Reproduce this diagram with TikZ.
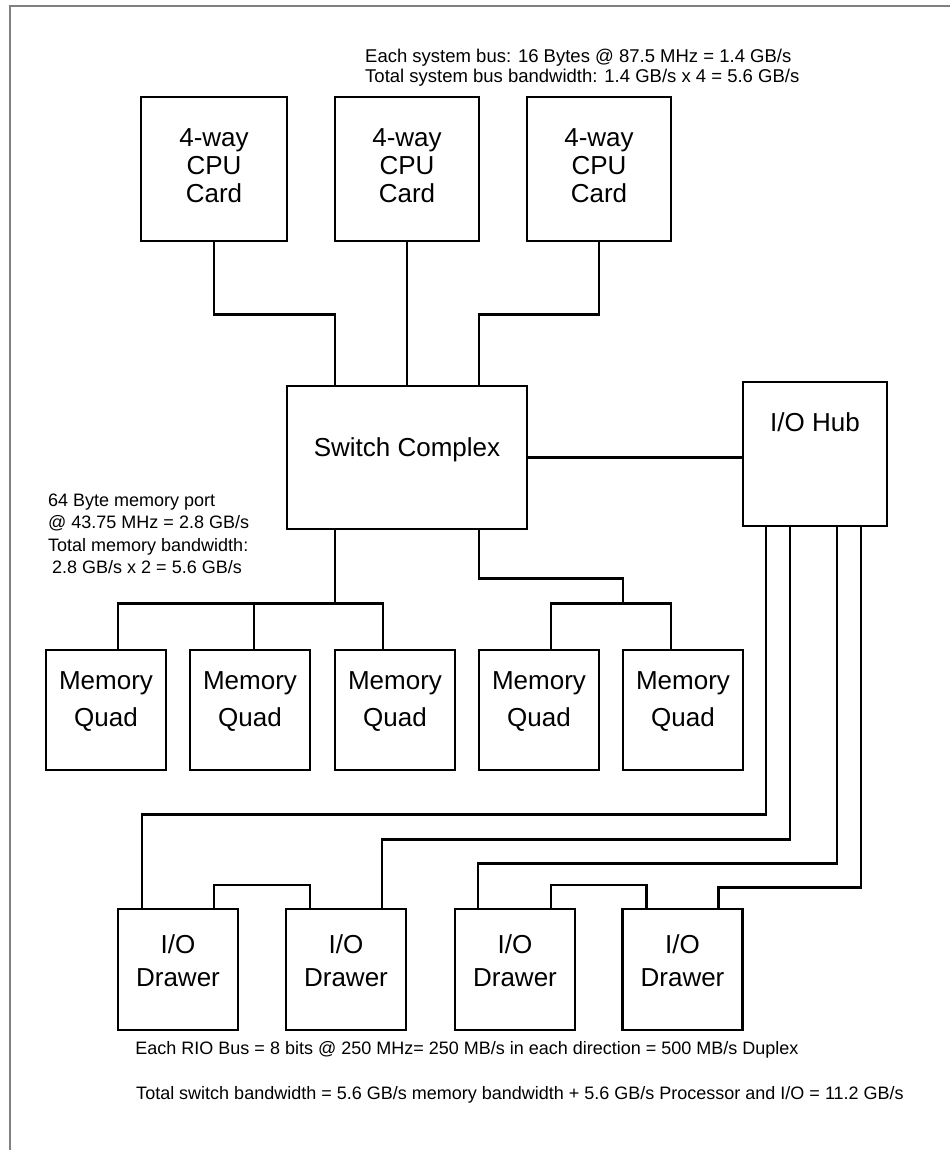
\documentclass[tikz,border=0pt]{standalone}
\usepackage{fontspec}
\setmainfont{Liberation Sans}
\begin{document}
\begin{tikzpicture}[x=1pt,y=-1pt,
  box/.style={draw, line width=2.5pt, inner sep=0pt},
  lbl/.style={align=center, inner sep=0pt, font=\fontsize{26}{28}\selectfont},
  wire/.style={line width=2.5pt},
  note/.style={inner sep=0pt, align=left, font=\fontsize{18}{22.5}\selectfont}]
\useasboundingbox (0,0) rectangle (950,1150);
\draw[black!50, line width=2pt] (9.5,1150) -- (9.5,6.5) -- (950,6.5);

% CPU cards
\node[box, minimum width=146pt, minimum height=144pt] (c1) at (214,169) {};
\node[box, minimum width=144pt, minimum height=144pt] (c2) at (407,169) {};
\node[box, minimum width=144pt, minimum height=144pt] (c3) at (599,169) {};
\node[lbl, yshift=3pt] (t1) at (c1.center) {4-way\\CPU\\Card};
\node[lbl, yshift=3pt] (t2) at (c2.center) {4-way\\CPU\\Card};
\node[lbl, yshift=3pt] (t3) at (c3.center) {4-way\\CPU\\Card};

% Switch and hub
\node[box, minimum width=240pt, minimum height=143pt] (sw) at (407,457.5) {};
\node[lbl, yshift=7.5pt] (tsw) at (sw.center) {Switch Complex};
\node[box, minimum width=144pt, minimum height=144pt] (hub) at (815,454) {};
\node[lbl, yshift=32pt] (thub) at (hub.center) {I/O Hub};

% Memory quads
\foreach \i/\x in {1/106,2/250,3/395,4/539,5/683}{
  \node[box, minimum width=120pt, minimum height=120pt] (m\i) at (\x,710) {};
  \node[lbl, font=\fontsize{26}{37}\selectfont, yshift=8.5pt] (tm\i) at (m\i.center) {Memory\\Quad};
}

% I/O drawers
\foreach \i/\x in {1/178,2/346,3/515,4/682.5}{
  \node[box, minimum width=120pt, minimum height=121pt] (d\i) at (\x,969.5) {};
  \node[lbl, font=\fontsize{26}{33}\selectfont, yshift=8.5pt] (td\i) at (d\i.center) {I/O\\Drawer};
}

% CPU to switch
\draw[wire] (c1.south) -- ++(0,72) -| ([xshift=-72pt]sw.north);
\draw[wire] (c2.south) -- (c2.south |- sw.north);
\draw[wire] (c3.south) -- ++(0,72) -| ([xshift=72pt]sw.north);

% switch to hub
\draw[wire] (sw.east) -- (sw.east -| hub.west);

% switch to memory
\draw[wire] ([xshift=-72pt]sw.south) -- ++(0,73) coordinate (mb1);
\draw[wire] ([xshift=12pt]m1.north) |- (mb1) -| ([xshift=-12pt]m3.north);
\draw[wire] ([xshift=4pt]m2.north) -- ([xshift=4pt]m2.north |- mb1);
\draw[wire] ([xshift=72pt]sw.south) -- ++(0,48) -| ([xshift=84pt]m4.north |- mb1) coordinate (mb2);
\draw[wire] ([xshift=12pt]m4.north) |- (mb2) -| ([xshift=-12pt]m5.north);

% hub to drawers
\draw[wire] ([xshift=24pt]hub.south west) -- ++(0,287) -| ([xshift=-36pt]d1.north);
\draw[wire] ([xshift=48pt]hub.south west) -- ++(0,312) -| ([xshift=36pt]d2.north);
\draw[wire] ([xshift=95pt]hub.south west) -- ++(0,336) -| ([xshift=-37pt]d3.north);
\draw[wire] ([xshift=119pt]hub.south west) -- ++(0,360) -| ([xshift=36pt]d4.north);
\draw[wire] ([xshift=36pt]d1.north) -- ++(0,-23) -| ([xshift=-36pt]d2.north);
\draw[wire] ([xshift=36pt]d3.north) -- ++(0,-23) -| ([xshift=-36pt]d4.north);

% annotations
\node[note, anchor=west, font=\fontsize{18.5}{20}\selectfont] (n1) at (365,68) {Each system bus: 16 Bytes @ 87.5 MHz = 1.4 GB/s\\Total system bus bandwidth: 1.4 GB/s x 4 = 5.6 GB/s};
\node[note, anchor=west] (n2) at (48,534) {64 Byte memory port\\@ 43.75 MHz = 2.8 GB/s\\Total memory bandwidth:\\\hspace{4pt}2.8 GB/s x 2 = 5.6 GB/s};
\node[note] (n3) at (467,1050) {Each RIO Bus = 8 bits @ 250 MHz= 250 MB/s in each direction = 500 MB/s Duplex};
\node[note] (n4) at (520,1095) {Total switch bandwidth = 5.6 GB/s memory bandwidth + 5.6 GB/s Processor and I/O = 11.2 GB/s};
\end{tikzpicture}
\end{document}
